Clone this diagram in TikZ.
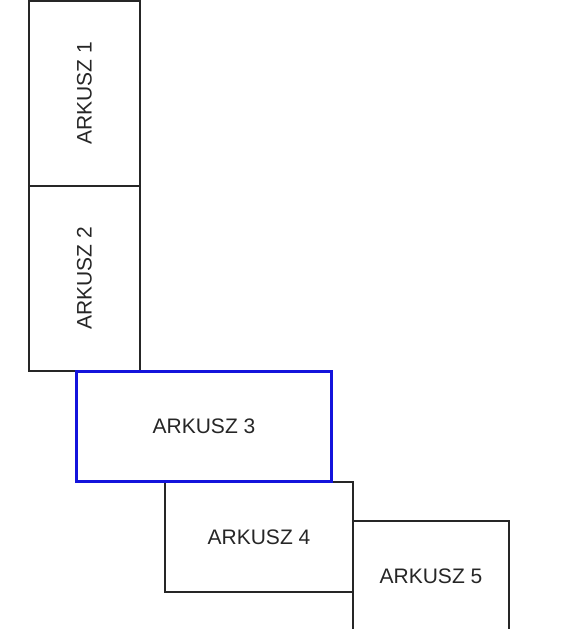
\documentclass[tikz,border=0pt]{standalone}
\usepackage{fontspec}
\setmainfont{Liberation Sans}
\begin{document}
\begin{tikzpicture}[x=1pt,y=-1pt,
  sheet/.style={draw=black!85,line width=1.3pt,inner sep=0pt,
    font=\fontsize{21}{25}\selectfont,text=black!85},
  activesheet/.style={sheet,draw={rgb,255:red,20;green,20;blue,220},line width=2.6pt}]
\useasboundingbox (0,0) rectangle (575,629);
\clip (0,0) rectangle (575,629);
\node[sheet,rotate=90,minimum width=185pt,minimum height=111pt] (b1) at (84.5,93.5) {ARKUSZ 1};
\node[sheet,rotate=90,minimum width=185pt,minimum height=111pt] (b2) at (84.5,278.5) {ARKUSZ 2};
\node[sheet,minimum width=188pt,minimum height=110pt] (b4) at (259,537) {ARKUSZ 4};
\node[sheet,minimum width=156pt,minimum height=110pt] (b5) at (431,576) {ARKUSZ 5};
\node[activesheet,minimum width=255pt,minimum height=110pt] (b3) at (204,426.5) {ARKUSZ 3};
\end{tikzpicture}
\end{document}
